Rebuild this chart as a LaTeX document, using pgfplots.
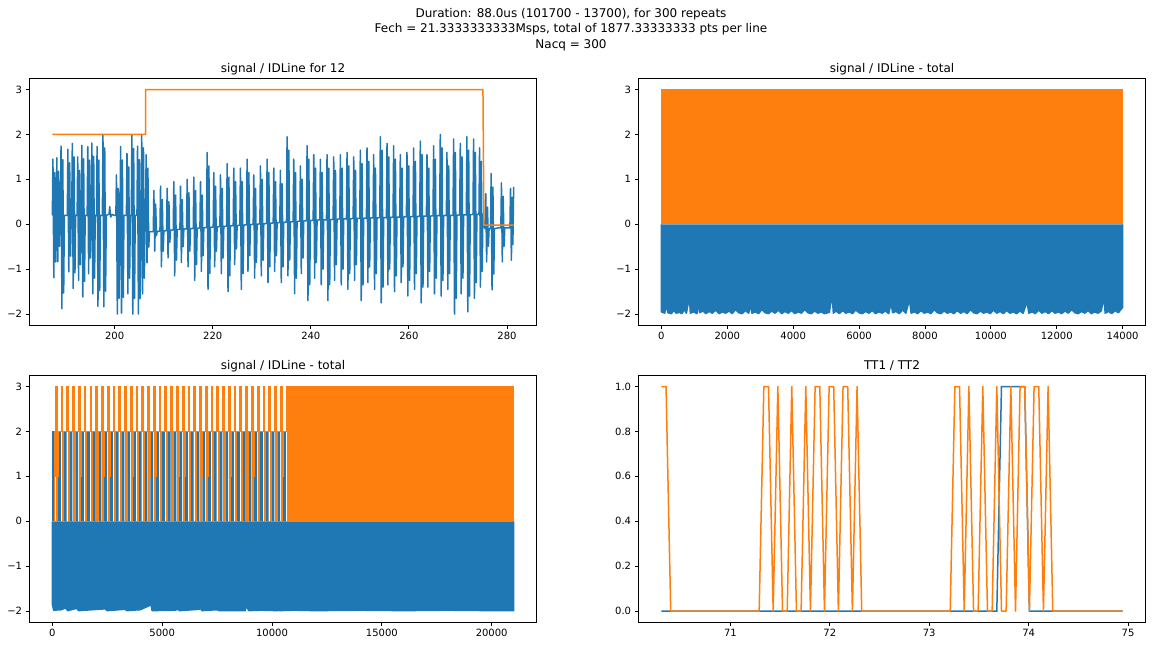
\documentclass[border=0pt]{standalone}
\usepackage{fontspec}
\setmainfont{DejaVu Sans}
\usepackage{pgfplots}
\pgfplotsset{compat=1.18}
\definecolor{c0}{HTML}{1F77B4}
\definecolor{c1}{HTML}{FF7F0E}
\pgfplotsset{
  mpl/.style={
    scale only axis, width=507.4bp, height=247bp, anchor=south west,
    axis on top, scaled ticks=false,
    tick pos=left, tick align=outside, major tick length=3.5bp,
    tick style={black, line width=0.8bp},
    axis line style={line width=0.8bp},
    ticklabel style={font=\fontsize{10bp}{12bp}\selectfont},
    xticklabel style={inner sep=0pt, anchor=north, yshift=-3.5bp},
    yticklabel style={inner sep=0pt, anchor=east, xshift=-3.5bp},
    title style={font=\fontsize{12bp}{14bp}\selectfont, at={(0.5,1)}, anchor=base, inner sep=0pt},
  }
}
\begin{document}
\begin{tikzpicture}
\path[use as bounding box] (0,0) rectangle (1155bp,646bp);
\begin{scope}[font=\fontsize{12bp}{14bp}\selectfont]
\node[anchor=base] at (571bp,628.7bp) {Duration: 88.0us (101700 - 13700), for 300 repeats};
\node[anchor=base] at (571bp,613.2bp) {Fech = 21.3333333333Msps, total of 1877.33333333 pts per line};
\node[anchor=base] at (571bp,597.7bp) {Nacq = 300};
\end{scope}

% ---------------- top left ----------------
\begin{axis}[mpl, at={(29.3bp,320.7bp)},
  title={signal / IDLine for 12},
  xmin=182.6, xmax=286.06, ymin=-2.25, ymax=3.25,
  xtick={200,220,240,260,280}, xticklabels={200,220,240,260,280},
  ytick={-2,-1,0,1,2,3}, yticklabels={−2,−1,0,1,2,3}]
\addplot[c0, line width=1.5bp, line join=round] coordinates {
(187.30,0.20)(187.42,1.45)(187.60,-1.19)(187.78,1.15)(187.96,-0.84)(188.10,0.20)
(188.22,1.48)(188.40,-0.84)(188.58,1.18)(188.76,-0.49)(188.90,0.20)
(188.95,0.20)(189.07,1.74)(189.25,-1.88)(189.43,1.44)(189.61,-1.53)(189.75,0.20)
(190.35,0.20)(190.47,1.67)(190.65,-1.06)(190.83,1.37)(191.01,-0.71)(191.15,0.20)
(191.25,0.20)(191.37,1.80)(191.55,-1.43)(191.73,1.50)(191.91,-1.08)(192.05,0.20)
(192.35,0.20)(192.47,1.50)(192.65,-1.25)(192.83,1.20)(193.01,-0.90)(193.15,0.20)
(193.20,0.20)(193.32,1.76)(193.50,-1.62)(193.68,1.46)(193.86,-1.27)(194.00,0.20)
(194.40,0.20)(194.52,1.73)(194.70,-1.10)(194.88,1.43)(195.06,-0.75)(195.20,0.20)
(195.25,0.20)(195.37,1.81)(195.55,-1.55)(195.73,1.51)(195.91,-1.20)(196.05,0.20)
(196.30,0.20)(196.42,1.73)(196.60,-1.83)(196.78,1.43)(196.96,-1.48)(197.10,0.20)
(197.50,0.20)(197.62,2.00)(197.80,-1.84)(197.98,1.70)(198.16,-1.49)(198.30,0.20)
(198.85,0.22)(199.00,0.39)(199.20,0.16)(199.50,0.22)(199.90,0.20)
(200.25,0.20)(200.37,1.10)(200.55,-2.00)(200.73,0.80)(200.91,-1.65)(201.05,0.20)
(201.10,0.20)(201.22,1.73)(201.40,-1.98)(201.58,1.43)(201.76,-1.63)(201.90,0.20)
(202.40,0.20)(202.52,1.58)(202.70,-1.55)(202.88,1.28)(203.06,-1.20)(203.20,0.20)
(203.40,0.20)(203.52,1.99)(203.70,-2.00)(203.88,1.69)(204.06,-1.65)(204.20,0.20)
(204.55,0.20)(204.67,1.74)(204.85,-2.00)(205.03,1.44)(205.21,-1.65)(205.35,0.20)
(205.40,0.20)(205.52,2.00)(205.70,-1.55)(205.88,1.70)(206.06,-1.20)(206.20,0.10)
(206.30,0.00)(206.42,1.55)(206.60,-0.86)(206.78,1.25)(206.96,-0.51)(207.10,-0.17)
(207.88,-0.16)(208.00,0.75)(208.18,-0.60)(208.36,0.45)(208.54,-0.25)(208.68,-0.16)
(209.24,-0.15)(209.36,0.85)(209.54,-0.95)(209.72,0.55)(209.90,-0.60)(210.04,-0.15)
(210.59,-0.14)(210.71,0.80)(210.89,-0.75)(211.07,0.50)(211.25,-0.40)(211.39,-0.14)
(211.95,-0.12)(212.07,0.95)(212.25,-1.15)(212.43,0.65)(212.61,-0.80)(212.75,-0.12)
(213.31,-0.11)(213.43,0.85)(213.61,-0.85)(213.79,0.55)(213.97,-0.50)(214.11,-0.11)
(214.67,-0.10)(214.79,1.00)(214.97,-0.95)(215.15,0.70)(215.33,-0.60)(215.47,-0.10)
(216.03,-0.09)(216.15,1.05)(216.33,-1.25)(216.51,0.75)(216.69,-0.90)(216.83,-0.09)
(217.39,-0.08)(217.51,0.95)(217.69,-1.05)(217.87,0.65)(218.05,-0.70)(218.19,-0.08)
(218.74,-0.07)(218.86,1.60)(219.04,-1.45)(219.22,1.30)(219.40,-1.10)(219.54,-0.07)
(220.10,-0.06)(220.22,1.15)(220.40,-0.95)(220.58,0.85)(220.76,-0.60)(220.90,-0.06)
(221.46,-0.05)(221.58,1.10)(221.76,-1.10)(221.94,0.80)(222.12,-0.75)(222.26,-0.05)
(222.82,-0.04)(222.94,1.35)(223.12,-1.50)(223.30,1.05)(223.48,-1.15)(223.62,-0.04)
(224.18,-0.03)(224.30,1.25)(224.48,-0.90)(224.66,0.95)(224.84,-0.55)(224.98,-0.03)
(225.53,-0.02)(225.65,1.25)(225.83,-1.45)(226.01,0.95)(226.19,-1.10)(226.33,-0.02)
(226.89,-0.01)(227.01,1.45)(227.19,-1.05)(227.37,1.15)(227.55,-0.70)(227.69,-0.01)
(228.25,0.00)(228.37,1.10)(228.55,-1.20)(228.73,0.80)(228.91,-0.85)(229.05,0.00)
(229.61,0.01)(229.73,1.30)(229.91,-1.15)(230.09,1.00)(230.27,-0.80)(230.41,0.01)
(230.97,0.02)(231.09,1.45)(231.27,-1.30)(231.45,1.15)(231.63,-0.95)(231.77,0.02)
(232.33,0.03)(232.45,1.25)(232.63,-1.05)(232.81,0.95)(232.99,-0.70)(233.13,0.03)
(233.68,0.04)(233.80,1.20)(233.98,-1.30)(234.16,0.90)(234.34,-0.95)(234.48,0.04)
(235.04,0.05)(235.16,1.95)(235.34,-1.15)(235.52,1.65)(235.70,-0.80)(235.84,0.05)
(236.40,0.06)(236.52,1.45)(236.70,-1.55)(236.88,1.15)(237.06,-1.20)(237.20,0.06)
(237.76,0.07)(237.88,1.30)(238.06,-1.10)(238.24,1.00)(238.42,-0.75)(238.56,0.07)
(239.12,0.08)(239.24,1.75)(239.42,-1.70)(239.60,1.45)(239.78,-1.35)(239.92,0.08)
(240.48,0.09)(240.60,1.55)(240.78,-1.20)(240.96,1.25)(241.14,-0.85)(241.28,0.09)
(241.83,0.10)(241.95,1.45)(242.13,-1.35)(242.31,1.15)(242.49,-1.00)(242.63,0.10)
(243.19,0.10)(243.31,1.55)(243.49,-1.70)(243.67,1.25)(243.85,-1.35)(243.99,0.10)
(244.55,0.11)(244.67,1.50)(244.85,-1.25)(245.03,1.20)(245.21,-0.90)(245.35,0.11)
(245.91,0.12)(246.03,1.55)(246.21,-1.35)(246.39,1.25)(246.57,-1.00)(246.71,0.12)
(247.27,0.12)(247.39,1.60)(247.57,-1.45)(247.75,1.30)(247.93,-1.10)(248.07,0.12)
(248.63,0.13)(248.75,1.50)(248.93,-1.25)(249.11,1.20)(249.29,-0.90)(249.43,0.13)
(249.98,0.13)(250.10,1.65)(250.28,-1.70)(250.46,1.35)(250.64,-1.35)(250.78,0.13)
(251.34,0.14)(251.46,1.70)(251.64,-1.30)(251.82,1.40)(252.00,-0.95)(252.14,0.14)
(252.70,0.14)(252.82,1.55)(253.00,-1.45)(253.18,1.25)(253.36,-1.10)(253.50,0.14)
(254.06,0.15)(254.18,1.95)(254.36,-1.75)(254.54,1.65)(254.72,-1.40)(254.86,0.15)
(255.42,0.15)(255.54,1.80)(255.72,-1.35)(255.90,1.50)(256.08,-1.00)(256.22,0.15)
(256.77,0.16)(256.89,1.75)(257.07,-1.50)(257.25,1.45)(257.43,-1.15)(257.57,0.16)
(258.13,0.16)(258.25,1.55)(258.43,-1.30)(258.61,1.25)(258.79,-0.95)(258.93,0.16)
(259.49,0.17)(259.61,1.60)(259.79,-1.60)(259.97,1.30)(260.15,-1.25)(260.29,0.17)
(260.85,0.17)(260.97,1.70)(261.15,-1.45)(261.33,1.40)(261.51,-1.10)(261.65,0.17)
(262.21,0.18)(262.33,1.85)(262.51,-1.75)(262.69,1.55)(262.87,-1.40)(263.01,0.18)
(263.57,0.18)(263.69,1.55)(263.87,-1.40)(264.05,1.25)(264.23,-1.05)(264.37,0.18)
(264.92,0.19)(265.04,1.75)(265.22,-1.55)(265.40,1.45)(265.58,-1.20)(265.72,0.19)
(266.28,0.19)(266.40,2.00)(266.58,-1.60)(266.76,1.70)(266.94,-1.25)(267.08,0.19)
(267.64,0.20)(267.76,1.60)(267.94,-1.45)(268.12,1.30)(268.30,-1.10)(268.44,0.20)
(269.00,0.20)(269.12,1.90)(269.30,-2.00)(269.48,1.60)(269.66,-1.65)(269.80,0.20)
(270.36,0.21)(270.48,1.80)(270.66,-1.55)(270.84,1.50)(271.02,-1.20)(271.16,0.21)
(271.71,0.21)(271.83,1.95)(272.01,-1.95)(272.19,1.65)(272.37,-1.60)(272.51,0.21)
(273.07,0.22)(273.19,1.90)(273.37,-1.65)(273.55,1.60)(273.73,-1.30)(273.87,0.22)
(274.29,0.22)(274.41,1.70)(274.59,-1.40)(274.77,1.40)(274.95,-1.05)(275.09,0.22)
(275.30,-0.05)
(275.55,-0.10)(275.67,0.68)(275.85,-0.84)(276.03,0.38)(276.21,-0.49)(276.35,-0.10)
(276.65,-0.10)(276.77,1.13)(276.95,-1.46)(277.13,0.83)(277.31,-1.11)(277.45,-0.10)
(278.20,-0.08)
(278.75,-0.08)(278.87,0.92)(279.05,-0.84)(279.23,0.62)(279.41,-0.49)(279.55,-0.08)
(280.60,-0.08)(280.72,0.80)(280.90,-0.80)(281.08,0.60)(281.20,-0.45)(281.36,0.83)
};
\addplot[c1, line width=1.5bp] coordinates {
(187.30,2)(206.30,2)(206.30,3)(275.10,3)(275.30,-0.02)(281.36,-0.02)
};
\end{axis}

% ---------------- top right ----------------
\begin{axis}[mpl, at={(638.3bp,320.7bp)},
  title={signal / IDLine - total},
  xmin=-700, xmax=14700, ymin=-2.25, ymax=3.25,
  xtick={0,2000,4000,6000,8000,10000,12000,14000},
  xticklabels={0,2000,4000,6000,8000,10000,12000,14000},
  ytick={-2,-1,0,1,2,3}, yticklabels={−2,−1,0,1,2,3}]
\addplot[fill=c0, draw=c0, line width=1.5bp, line join=round] coordinates {
(0,0)(0,-1.95)(100,-1.98)(150,-1.80)(200,-1.97)(300,-1.99)(380,-1.92)(450,-1.98)(550,-1.96)(620,-1.99)
(700,-1.90)(760,-1.98)(850,-1.62)(880,-1.98)(980,-1.95)(1080,-1.99)(1130,-1.70)(1160,-1.97)(1260,-1.93)
(1350,-1.99)(1450,-1.94)(1550,-1.98)(1650,-1.91)(1750,-1.99)(1850,-1.95)(1950,-1.98)(2050,-1.93)
(2150,-1.99)(2250,-1.90)(2350,-1.97)(2450,-1.99)(2550,-1.92)(2650,-1.98)(2700,-1.80)(2750,-1.98)
(2850,-1.95)(2950,-1.99)(3050,-1.90)(3150,-1.97)(3250,-1.99)(3350,-1.93)(3450,-1.98)(3550,-1.91)
(3650,-1.99)(3750,-1.94)(3850,-1.98)(3950,-1.92)(4050,-1.99)(4150,-1.95)(4250,-1.98)(4350,-1.90)
(4450,-1.97)(4550,-1.99)(4650,-1.93)(4750,-1.98)(4850,-1.95)(4950,-1.99)(5100,-1.96)(5180,-1.55)
(5220,-1.98)(5300,-1.93)(5400,-1.99)(5500,-1.92)(5600,-1.98)(5700,-1.95)(5800,-1.99)(5900,-1.91)
(6000,-1.97)(6100,-1.99)(6200,-1.94)(6300,-1.98)(6400,-1.92)(6500,-1.99)(6600,-1.95)(6700,-1.98)
(6800,-1.93)(6900,-1.99)(6970,-1.75)(7020,-1.97)(7120,-1.94)(7220,-1.99)(7320,-1.91)(7420,-1.98)
(7530,-1.68)(7580,-1.98)(7680,-1.95)(7780,-1.99)(7880,-1.92)(7980,-1.98)(8080,-1.95)(8180,-1.99)
(8280,-1.90)(8380,-1.97)(8480,-1.99)(8580,-1.93)(8680,-1.98)(8780,-1.95)(8880,-1.99)(8980,-1.92)
(9080,-1.98)(9180,-1.94)(9280,-1.99)(9380,-1.90)(9480,-1.97)(9580,-1.99)(9680,-1.93)(9780,-1.98)
(9880,-1.95)(9980,-1.99)(10080,-1.91)(10180,-1.98)(10280,-1.94)(10380,-1.99)(10480,-1.92)(10580,-1.98)
(10680,-1.95)(10780,-1.99)(10880,-1.93)(10980,-1.98)(11100,-1.72)(11150,-1.98)(11250,-1.95)(11350,-1.99)
(11450,-1.91)(11550,-1.98)(11650,-1.94)(11750,-1.99)(11850,-1.92)(11950,-1.98)(12050,-1.95)(12150,-1.99)
(12250,-1.93)(12350,-1.98)(12450,-1.90)(12550,-1.97)(12650,-1.99)(12750,-1.94)(12850,-1.98)(12950,-1.92)
(13050,-1.99)(13150,-1.95)(13250,-1.98)(13350,-1.93)(13430,-1.62)(13470,-1.98)(13570,-1.94)(13670,-1.99)
(13770,-1.92)(13870,-1.97)(14000,-1.85)(14000,0)
};
\addplot[fill=c1, draw=c1, line width=1.5bp] coordinates {
(0,0)(0,3)(14000,3)(14000,0)
};
\end{axis}

% ---------------- bottom left ----------------
\begin{axis}[mpl, at={(29.3bp,23.7bp)},
  title={signal / IDLine - total},
  xmin=-1050, xmax=22050, ymin=-2.25, ymax=3.25,
  xtick={0,5000,10000,15000,20000}, xticklabels={0,5000,10000,15000,20000},
  ytick={-2,-1,0,1,2,3}, yticklabels={−2,−1,0,1,2,3}]
\addplot[fill=c0, draw=c0, line width=1.5bp, line join=round] coordinates {
(0,0)(0,-1.85)(60,-1.98)(400,-1.97)(600,-1.93)(700,-1.99)(1100,-1.94)(1200,-1.99)(2400,-1.95)
(2500,-1.99)(3300,-1.96)(3400,-1.99)(4000,-1.97)(4500,-1.86)(4540,-1.99)(5600,-1.98)(5700,-1.96)
(5800,-1.99)(6700,-1.96)(6750,-1.90)(6800,-1.99)(7500,-1.97)(7600,-1.99)(8780,-1.99)(8800,-1.55)
(8850,-1.92)(8950,-1.99)(9500,-1.98)(10260,-1.99)(10280,-1.75)(10320,-1.99)(11000,-1.98)(12000,-1.99)
(14000,-1.98)(16000,-1.99)(18000,-1.98)(20000,-1.99)(21000,-1.99)(21000,0)
};
\addplot[ybar, bar width=60, bar shift=0pt, fill=c0, draw=none] coordinates {(30,2)};
\addplot[ybar, bar width=130, bar shift=0pt, fill=c0, draw=none] coordinates {
(325,2)(588,2)(850,2)(1113,2)(1375,2)(1638,2)(1901,2)(2163,2)(2426,2)(2688,2)
(2951,2)(3214,2)(3476,2)(3739,2)(4001,2)(4264,2)(4527,2)(4789,2)(5052,2)(5314,2)
(5577,2)(5840,2)(6102,2)(6365,2)(6627,2)(6890,2)(7153,2)(7415,2)(7678,2)(7940,2)
(8203,2)(8466,2)(8728,2)(8991,2)(9253,2)(9516,2)(9779,2)(10041,2)(10304,2)(10566,2)
};
\addplot[c1, line width=1.5bp] coordinates {
(0,0)(95,0)(95,1)(120,1)(120,2)
(150,2)(150,3)(205,3)(205,0)(230,0)(230,1)(250,1)(250,2)
(413,2)(413,3)(468,3)(468,0)(493,0)(493,1)(513,1)(513,2)
(675,2)(675,3)(730,3)(730,0)(755,0)(755,1)(775,1)(775,2)
(938,2)(938,3)(993,3)(993,0)(1018,0)(1018,1)(1038,1)(1038,2)
(1200,2)(1200,3)(1255,3)(1255,0)(1280,0)(1280,1)(1300,1)(1300,2)
(1463,2)(1463,3)(1518,3)(1518,0)(1543,0)(1543,1)(1563,1)(1563,2)
(1726,2)(1726,3)(1781,3)(1781,0)(1806,0)(1806,1)(1826,1)(1826,2)
(1988,2)(1988,3)(2043,3)(2043,0)(2068,0)(2068,1)(2088,1)(2088,2)
(2251,2)(2251,3)(2306,3)(2306,0)(2331,0)(2331,1)(2351,1)(2351,2)
(2513,2)(2513,3)(2568,3)(2568,0)(2593,0)(2593,1)(2613,1)(2613,2)
(2776,2)(2776,3)(2831,3)(2831,0)(2856,0)(2856,1)(2876,1)(2876,2)
(3039,2)(3039,3)(3094,3)(3094,0)(3119,0)(3119,1)(3139,1)(3139,2)
(3301,2)(3301,3)(3356,3)(3356,0)(3381,0)(3381,1)(3401,1)(3401,2)
(3564,2)(3564,3)(3619,3)(3619,0)(3644,0)(3644,1)(3664,1)(3664,2)
(3826,2)(3826,3)(3881,3)(3881,0)(3906,0)(3906,1)(3926,1)(3926,2)
(4089,2)(4089,3)(4144,3)(4144,0)(4169,0)(4169,1)(4189,1)(4189,2)
(4352,2)(4352,3)(4407,3)(4407,0)(4432,0)(4432,1)(4452,1)(4452,2)
(4614,2)(4614,3)(4669,3)(4669,0)(4694,0)(4694,1)(4714,1)(4714,2)
(4877,2)(4877,3)(4932,3)(4932,0)(4957,0)(4957,1)(4977,1)(4977,2)
(5139,2)(5139,3)(5194,3)(5194,0)(5219,0)(5219,1)(5239,1)(5239,2)
(5402,2)(5402,3)(5457,3)(5457,0)(5482,0)(5482,1)(5502,1)(5502,2)
(5665,2)(5665,3)(5720,3)(5720,0)(5745,0)(5745,1)(5765,1)(5765,2)
(5927,2)(5927,3)(5982,3)(5982,0)(6007,0)(6007,1)(6027,1)(6027,2)
(6190,2)(6190,3)(6245,3)(6245,0)(6270,0)(6270,1)(6290,1)(6290,2)
(6452,2)(6452,3)(6507,3)(6507,0)(6532,0)(6532,1)(6552,1)(6552,2)
(6715,2)(6715,3)(6770,3)(6770,0)(6795,0)(6795,1)(6815,1)(6815,2)
(6978,2)(6978,3)(7033,3)(7033,0)(7058,0)(7058,1)(7078,1)(7078,2)
(7240,2)(7240,3)(7295,3)(7295,0)(7320,0)(7320,1)(7340,1)(7340,2)
(7503,2)(7503,3)(7558,3)(7558,0)(7583,0)(7583,1)(7603,1)(7603,2)
(7765,2)(7765,3)(7820,3)(7820,0)(7845,0)(7845,1)(7865,1)(7865,2)
(8028,2)(8028,3)(8083,3)(8083,0)(8108,0)(8108,1)(8128,1)(8128,2)
(8291,2)(8291,3)(8346,3)(8346,0)(8371,0)(8371,1)(8391,1)(8391,2)
(8553,2)(8553,3)(8608,3)(8608,0)(8633,0)(8633,1)(8653,1)(8653,2)
(8816,2)(8816,3)(8871,3)(8871,0)(8896,0)(8896,1)(8916,1)(8916,2)
(9078,2)(9078,3)(9133,3)(9133,0)(9158,0)(9158,1)(9178,1)(9178,2)
(9341,2)(9341,3)(9396,3)(9396,0)(9421,0)(9421,1)(9441,1)(9441,2)
(9604,2)(9604,3)(9659,3)(9659,0)(9684,0)(9684,1)(9704,1)(9704,2)
(9866,2)(9866,3)(9921,3)(9921,0)(9946,0)(9946,1)(9966,1)(9966,2)
(10129,2)(10129,3)(10184,3)(10184,0)(10209,0)(10209,1)(10229,1)(10229,2)
(10391,2)(10391,3)(10446,3)(10446,0)(10471,0)(10471,1)(10491,1)(10491,2)
(10654,2)(10654,3)(10709,3)(10709,0)(10734,0)(10734,1)(10754,1)(10754,2)(10780,2)
};
\addplot[fill=c1, draw=c1, line width=1.5bp] coordinates {
(10780,0)(10780,3)(21000,3)(21000,0)
};
\end{axis}

% ---------------- bottom right ----------------
\begin{axis}[mpl, at={(638.3bp,23.7bp)},
  title={TT1 / TT2},
  xmin=70.073, xmax=75.178, ymin=-0.05, ymax=1.05,
  xtick={71,72,73,74,75}, xticklabels={71,72,73,74,75},
  ytick={0,0.2,0.4,0.6,0.8,1.0}, yticklabels={0.0,0.2,0.4,0.6,0.8,1.0}]
\addplot[c0, line width=1.5bp] coordinates {
(70.305,0)(73.680,0)(73.727,1)(73.961,1)(74.008,0)(74.946,0)
};
\addplot[c1, line width=1.5bp, line join=round] coordinates {
(70.305,1)(70.352,1)(70.399,0)(71.289,0)(71.336,1)(71.383,1)(71.430,0)(71.477,1)
(71.524,0)(71.571,0)(71.617,1)(71.664,0)(71.711,0)(71.758,1)(71.805,0)(71.852,1)
(71.899,1)(71.946,0)(71.993,1)(72.039,1)(72.086,0)(72.133,1)(72.180,1)(72.227,0)
(72.274,1)(72.321,0)(73.211,0)(73.258,1)(73.305,1)(73.352,0)(73.399,1)(73.446,0)
(73.492,0)(73.539,1)(73.586,0)(73.633,0)(73.680,1)(73.727,0)(73.774,0)(73.821,1)
(73.868,0)(73.914,1)(73.961,1)(74.008,0)(74.055,1)(74.102,1)(74.149,0)(74.196,1)
(74.243,0)(74.946,0)
};
\end{axis}
\end{tikzpicture}
\end{document}
